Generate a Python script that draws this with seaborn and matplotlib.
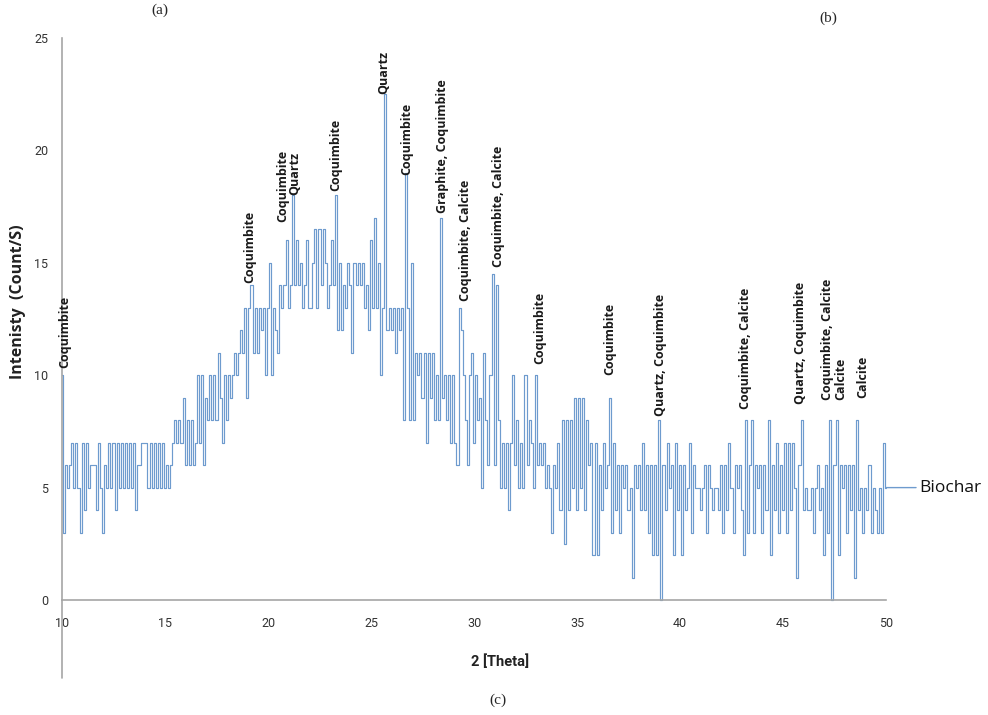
import numpy as np
import pandas as pd
import matplotlib
matplotlib.use("Agg")
import matplotlib.pyplot as plt
from matplotlib.lines import Line2D
import seaborn as sns

# 2-theta sampling grid: 10.0 .. 50.0 in 0.1 degree steps
two_theta = np.round(np.arange(100, 501) / 10.0, 1)

# Biochar XRD intensity (count/s), one row per degree
intensity = [
    10, 3, 6, 5, 6, 7, 5, 7, 5, 3,          # 10.x
    7, 4, 7, 5, 6, 6, 6, 4, 7, 5,           # 11.x
    3, 6, 5, 7, 5, 7, 4, 7, 5, 7,           # 12.x
    5, 7, 5, 7, 5, 7, 4, 6, 6, 7,           # 13.x
    7, 7, 5, 7, 5, 7, 5, 7, 5, 7,           # 14.x
    5, 6, 5, 6, 7, 8, 7, 8, 7, 9,           # 15.x
    6, 8, 6, 8, 6, 7, 10, 7, 10, 6,         # 16.x
    9, 8, 10, 8, 10, 8, 11, 9, 7, 10,       # 17.x
    8, 10, 9, 10, 11, 10, 11, 12, 11, 13,   # 18.x
    9, 13, 14, 11, 13, 11, 13, 12, 13, 10,  # 19.x
    13, 15, 10, 13, 12, 11, 14, 13, 14, 16, # 20.x
    13, 14, 18, 14, 16, 14, 15, 13, 14, 16, # 21.x
    13, 13, 15, 16.5, 13, 16.5, 14, 16.5, 15, 13,  # 22.x
    14, 16, 14, 18, 12, 15, 12, 14, 13, 15, # 23.x
    14, 11, 15, 14, 15, 14, 15, 13, 14, 12, # 24.x
    16, 13, 17, 13, 15, 10, 13, 22.5, 12, 13,  # 25.x
    12, 13, 11, 13, 12, 13, 8, 19, 13, 8,   # 26.x
    15, 8, 11, 10, 11, 9, 11, 7, 11, 9,     # 27.x
    11, 8, 10, 8, 17, 9, 10, 8, 10, 7,      # 28.x
    10, 7, 6, 13, 12, 10, 8, 6, 10, 11,     # 29.x
    7, 10, 8, 9, 5, 11, 8, 6, 10, 14.5,     # 30.x
    6, 14, 8, 5, 7, 5, 7, 4, 7, 10,         # 31.x
    6, 8, 5, 7, 5, 10, 6, 8, 7, 5,          # 32.x
    10, 6, 7, 6, 7, 5, 6, 5, 3, 6,          # 33.x
    5, 7, 4, 8, 2.5, 8, 4, 8, 5, 9,         # 34.x
    4, 9, 5, 9, 4, 8, 6, 7, 2, 7,           # 35.x
    2, 6, 4, 7, 5, 6, 9, 3, 7, 4,           # 36.x
    6, 3, 6, 5, 6, 4, 5, 1, 6, 5,           # 37.x
    6, 4, 7, 4, 6, 3, 6, 2, 6, 2,           # 38.x
    8, 0, 6, 4, 7, 5, 6, 2, 7, 4,           # 39.x
    6, 2, 6, 4, 5, 7, 3, 6, 5, 5,           # 40.x
    4, 5, 6, 3, 6, 5, 4, 5, 5, 4,           # 41.x
    6, 3, 6, 4, 7, 5, 3, 6, 5, 6,           # 42.x
    4, 2, 8, 3, 6, 8, 3, 6, 5, 6,           # 43.x
    3, 6, 4, 8, 2, 6, 4, 7, 3, 6,           # 44.x
    4, 7, 3, 7, 4, 7, 5, 1, 6, 8,           # 45.x
    4, 5, 4, 4, 5, 3, 5, 6, 4, 5,           # 46.x
    2, 6, 3, 8, 0, 6, 8, 2, 6, 5,           # 47.x
    6, 3, 6, 4, 6, 1, 8, 4, 5, 3,           # 48.x
    5, 4, 6, 3, 5, 4, 3, 5, 3, 7,           # 49.x
    5,                                      # 50.0
]
assert len(intensity) == len(two_theta)

# Phase identification labels: position (2-theta), label baseline (count/s), name
phase_pos = [10.15, 19.13, 20.7, 21.32, 23.3, 25.6, 26.75, 28.45, 29.6,
             31.17, 33.2, 36.6, 39.03, 43.2, 45.83, 47.18, 47.82, 48.85]
phase_base = [10.3, 14.1, 16.8, 18.0, 18.2, 22.5, 18.9, 17.2, 13.3,
              14.8, 10.5, 10.0, 8.2, 8.5, 8.7, 8.9, 8.9, 9.0]
phase_names = ["Coquimbite", "Coquimbite", "Coquimbite", "Quartz", "Coquimbite",
               "Quartz", "Coquimbite", "Graphite, Coquimbite", "Coquimbite, Calcite",
               "Coquimbite, Calcite", "Coquimbite", "Coquimbite", "Quartz, Coquimbite",
               "Coquimbite, Calcite", "Quartz, Coquimbite", "Coquimbite, Calcite",
               "Calcite", "Calcite"]

x_ticks = [10, 15, 20, 25, 30, 35, 40, 45, 50]
y_ticks = [0, 5, 10, 15, 20, 25]
series_name = "Biochar"

df = pd.DataFrame({"two_theta": two_theta, "intensity": intensity})

sns.set_theme(style="white")
plt.rcParams["font.family"] = ["Open Sans", "DejaVu Sans"]
narrow = ["Liberation Sans Narrow", "Roboto", "DejaVu Sans"]

fig = plt.figure(figsize=(9.88, 7.15), dpi=100)
ax = fig.add_axes([62 / 988, 1 - 600 / 715, 824 / 988, 562 / 715])

sns.lineplot(data=df, x="two_theta", y="intensity", ax=ax, estimator=None,
             color="#6E9BCE", linewidth=0.85, drawstyle="steps-mid", clip_on=False)

ax.set_xlim(10, 50)
ax.set_ylim(0, 25)
ax.set_xticks(x_ticks)
ax.set_yticks(y_ticks)
ax.set_xticklabels([str(v) for v in x_ticks], family=narrow, fontsize=9, color="#333333")
ax.set_yticklabels([str(v) for v in y_ticks], family=narrow, fontsize=9, color="#333333")
ax.tick_params(axis="x", direction="out", length=4, width=1, color="#A6A6A6", pad=8)
ax.tick_params(axis="y", direction="out", length=4, width=1, color="#A6A6A6", pad=6)
for side in ("top", "right"):
    ax.spines[side].set_visible(False)
for side in ("left", "bottom"):
    ax.spines[side].set_color("#A6A6A6")
    ax.spines[side].set_linewidth(1.2)

ax.set_xlabel("")
ax.set_ylabel("")
fig.text(500 / 988, 1 - 662 / 715, "2 [Theta]", ha="center", va="center",
         fontsize=10.5, fontweight="bold", family=narrow, color="#222222")
fig.text(18 / 988, 1 - 302 / 715, "Intenisty  (Count/S)", ha="center", va="center",
         rotation=90, fontsize=11.5, fontweight="bold", color="#222222")

# vertical axis line continues below the plotting area
fig.add_artist(Line2D([62 / 988, 62 / 988], [1 - 600 / 715, 1 - 678 / 715],
                      transform=fig.transFigure, color="#A6A6A6", linewidth=1.2))

# phase labels above the peaks
for px, py, name in zip(phase_pos, phase_base, phase_names):
    ax.text(px, py, name, rotation=90, ha="center", va="bottom",
            fontsize=9, fontweight="bold", color="#1a1a1a")

# series label at the end of the trace
ax.annotate(series_name, xy=(two_theta[-1], intensity[-1]), xycoords="data",
            xytext=(24, 0), textcoords="offset points", ha="left", va="center",
            fontsize=12.5, color="#111111",
            arrowprops=dict(arrowstyle="-", color="#6E9BCE", lw=1.0,
                            shrinkA=0, shrinkB=0))

# panel letters
serif = ["Liberation Serif", "DejaVu Serif"]
fig.text(160 / 988, 1 - 10 / 715, "(a)", ha="center", va="center", fontsize=11, family=serif)
fig.text(828 / 988, 1 - 18 / 715, "(b)", ha="center", va="center", fontsize=11, family=serif)
fig.text(498 / 988, 1 - 700 / 715, "(c)", ha="center", va="center", fontsize=11, family=serif)

fig.savefig("out.png", dpi=100)
